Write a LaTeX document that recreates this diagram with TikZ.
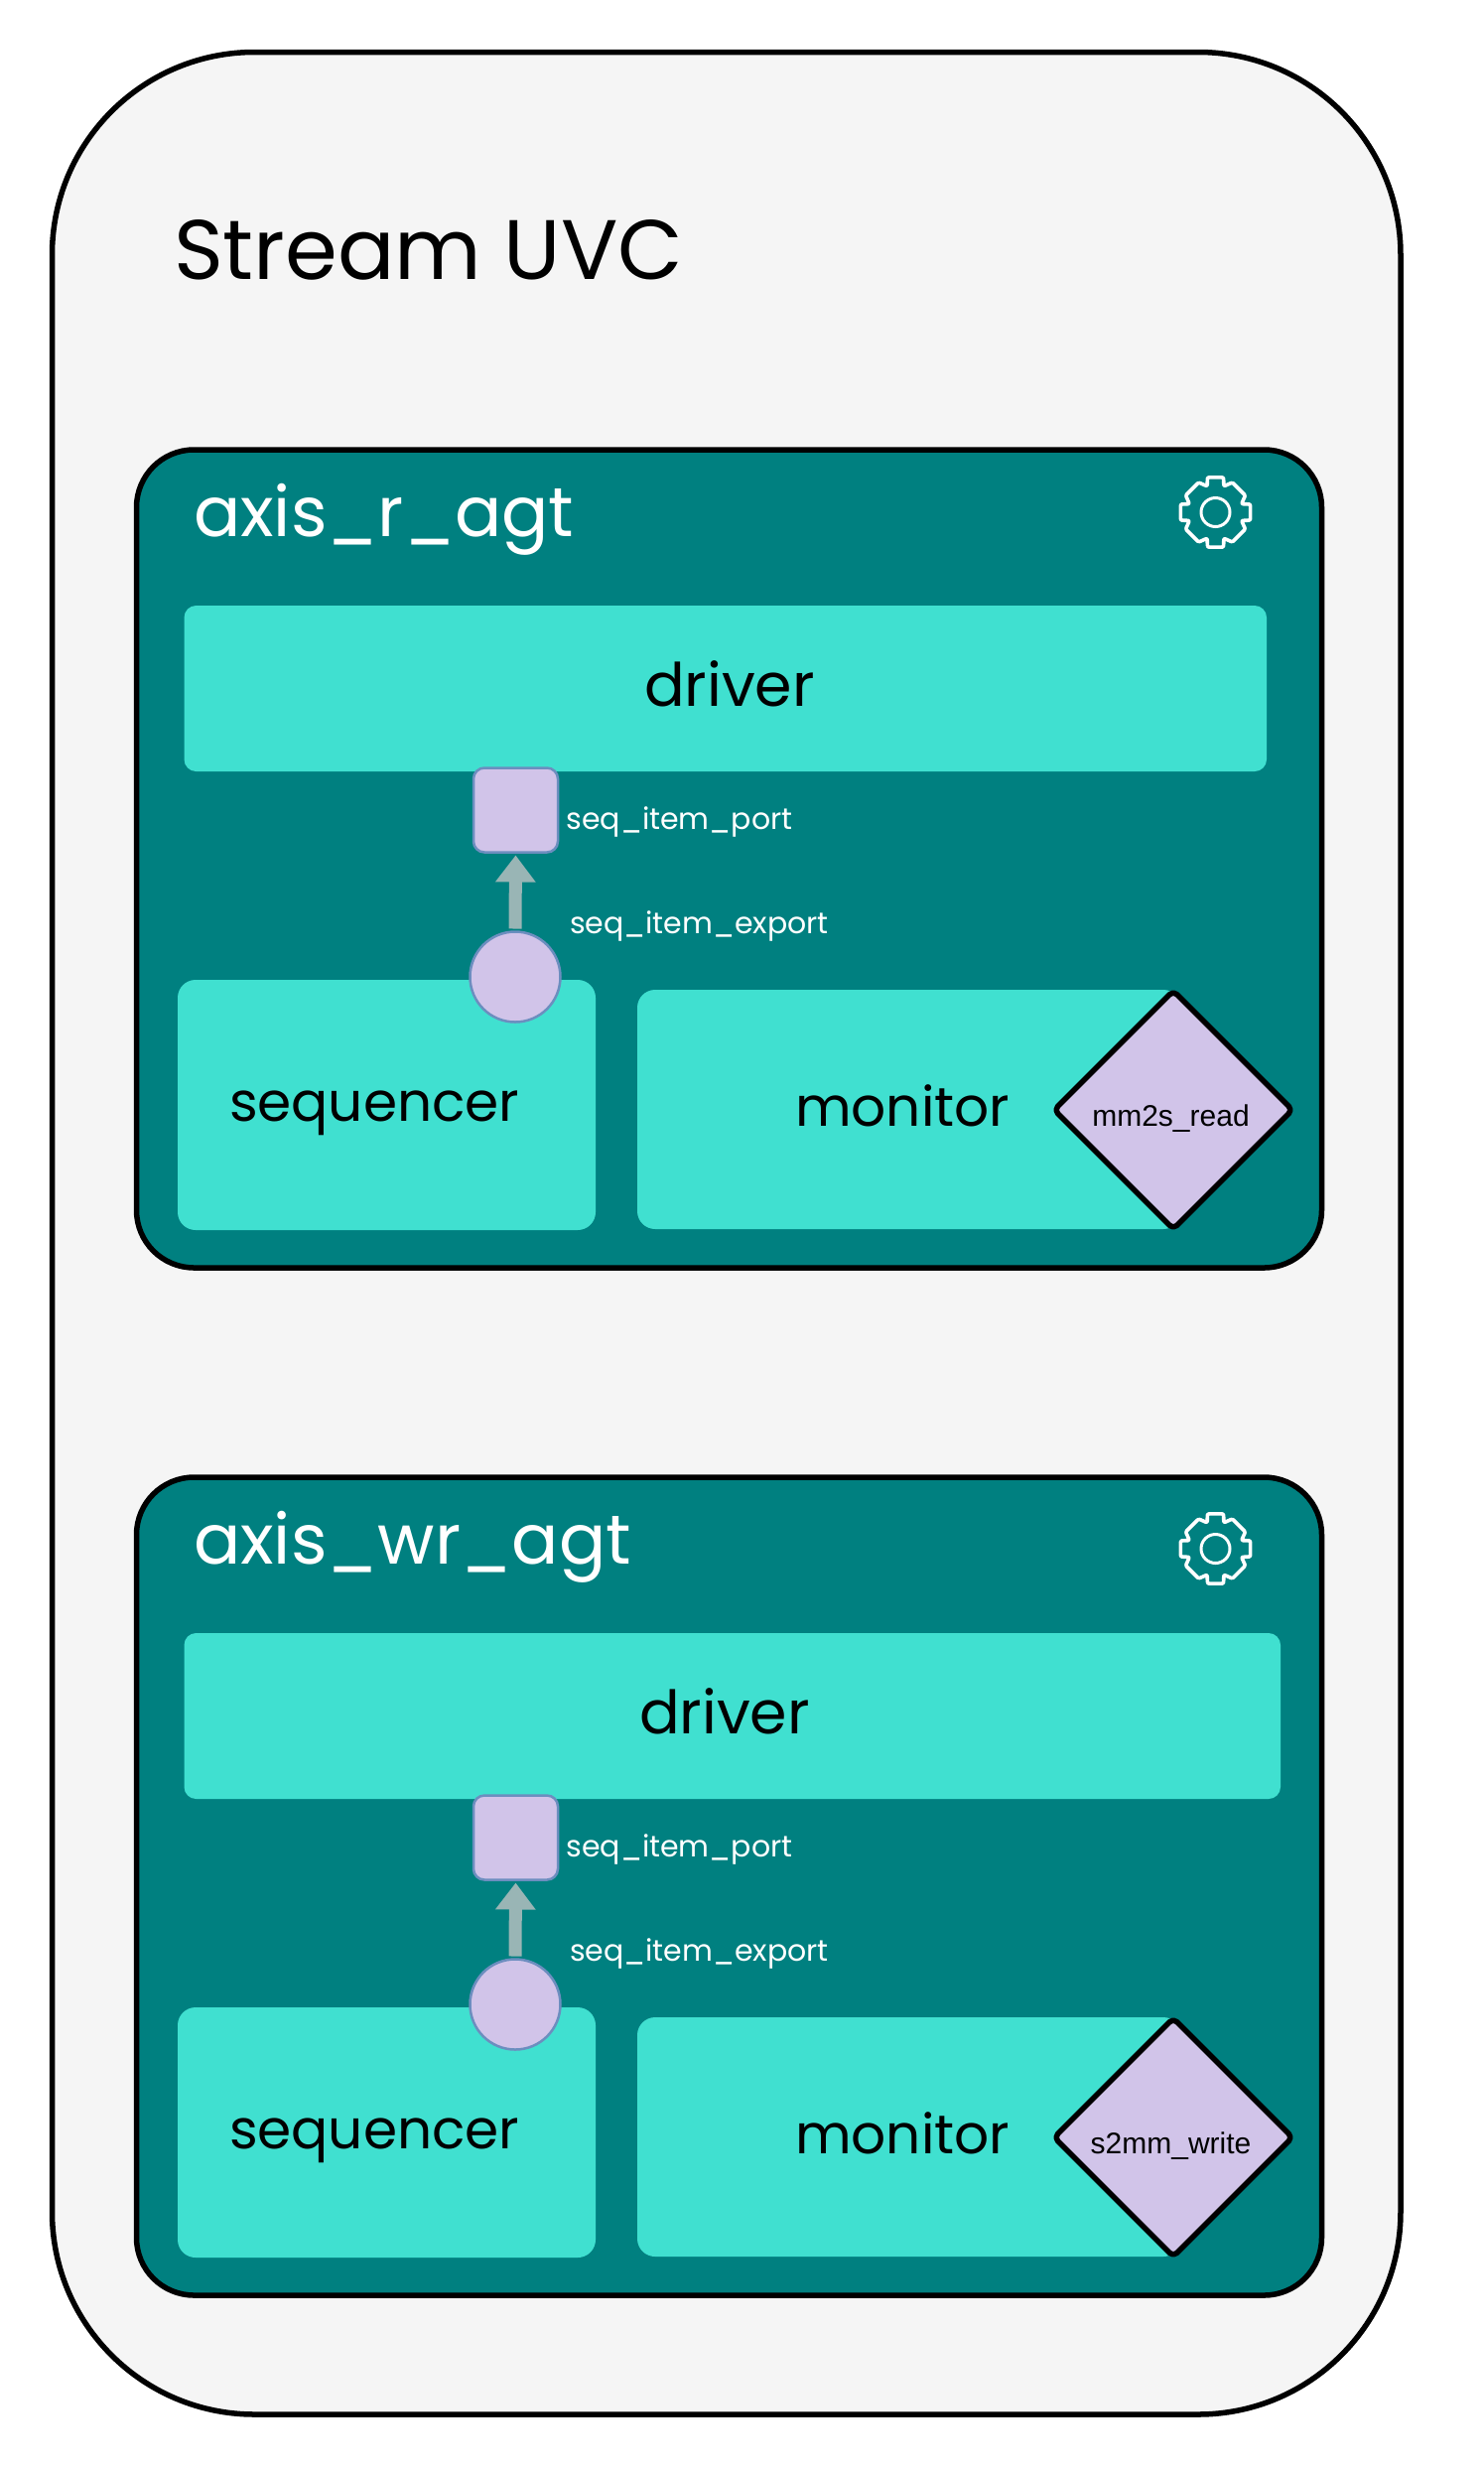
\documentclass[tikz,border=0pt]{standalone}
\usepackage{fontspec}
\setmainfont{Poppins}
\newfontfamily\arialfont{Liberation Sans}
\usetikzlibrary{arrows.meta,shapes.geometric}
\definecolor{pageGrey}{HTML}{F5F5F5}
\definecolor{tealPanel}{HTML}{008080}
\definecolor{turq}{HTML}{40E0D0}
\definecolor{lilac}{HTML}{D1C4E9}
\definecolor{portEdge}{HTML}{6C8EBF}
\definecolor{arrowGrey}{HTML}{99B5B5}
\newcommand{\fsz}[1]{\fontsize{#1}{#1}\selectfont}
\tikzset{
  x=1pt,y=-1pt,
  every node/.style={inner sep=0pt,outer sep=0pt},
  boxat/.style n args={4}{minimum width=#3-#1,minimum height=#4-#2,anchor=north west},
  outerbox/.style={draw=black,line width=5.5pt,fill=pageGrey,rounded corners=204pt},
  panelbox/.style={draw=black,line width=5.5pt,fill=tealPanel,rounded corners=58pt},
  drvbox/.style={fill=turq,rounded corners=12pt},
  seqbox/.style={fill=turq,rounded corners=18pt},
  portbox/.style={draw=portEdge,line width=2.5pt,fill=lilac,rounded corners=11pt,minimum size=85pt},
  exportdot/.style={circle,draw=portEdge,line width=2.5pt,fill=lilac,minimum size=91pt},
  probe/.style={diamond,aspect=1,draw=black,line width=5.5pt,line join=round,rounded corners=5pt,fill=lilac,minimum width=240pt,minimum height=240pt},
  flow/.style={draw=arrowGrey,line width=13pt,-{Triangle[length=27pt,width=39pt]},shorten <=3pt,shorten >=3pt},
  whitetxt/.style={text=white,anchor=base west},
  darktxt/.style={text=black,anchor=base west},
  gear/.pic={
    \draw[white,line width=3.6pt,line join=round,rounded corners=1.2pt]
      (90+13:36) \foreach \c in {90,0,-90,-180}{
        -- (\c+13:36)
        -- (\c-13:36)
        -- (\c-17.7:27.5)
        -- (\c-45+15.5:34.5)
        -- (\c-45-15.5:34.5)
        -- (\c-90+17.7:27.5)
      } -- cycle;
    \node[circle,draw=white,line width=3pt,minimum size=29pt] (-hub) at (0,0) {};
  }
}
\begin{document}
\begin{tikzpicture}
\useasboundingbox (0,0) rectangle (1495,2485);
\node[outerbox,boxat={52.5}{52.5}{1411}{2432}] (outer) at (52.5,52.5) {};
\node[darktxt] (title) at (175,281) {\fsz{85}Stream UVC};
\foreach \pre/\dy/\agt/\drvr/\drvtx/\gy/\probetxt in {
  r/0/axis\_r\_agt/1276/649/516/mm2s\_read,
  w/1035/axis\_wr\_agt/1290/644/525/s2mm\_write}{
  \begin{scope}[yshift=-\dy pt,name prefix=\pre-]
    \node[panelbox,boxat={137.5}{453}{1331.5}{1277}] (panel) at (137.5,453) {};
    \node[whitetxt] (name) at (195,540) {\fsz{70}\agt};
    \pic (cog) at (1224.5,\gy) {gear};
    \node[drvbox,boxat={185.5}{610}{\drvr}{777}] (driver) at (185.5,610) {};
    \node[darktxt] (drivertxt) at (\drvtx,711) {\fsz{60.3}driver};
    \node[seqbox,boxat={179}{987}{600}{1239}] (seq) at (179,987) {};
    \node[darktxt] (seqtxt) at (231,1129.5) {\fsz{55}sequencer};
    \node[seqbox,boxat={642}{997}{1190}{1238}] (mon) at (642,997) {};
    \node[darktxt] (montxt) at (801,1134) {\fsz{55}monitor};
    \node[portbox] (port) at (519.5,816) {};
    \node[exportdot] (export) at (519,984) {};
    \draw[flow] (export.north) -- (port.south);
    \node[whitetxt] (porttxt) at (570.5,835) {\fsz{30}seq\_item\_port};
    \node[whitetxt] (exporttxt) at (574,940) {\fsz{30}seq\_item\_export};
    \node[probe] (probe) at (1182,1118) {};
    \node[anchor=base,text=black] (probetxt) at (1179.5,1134) {\arialfont\fsz{30}\probetxt};
  \end{scope}
}
\end{tikzpicture}
\end{document}
